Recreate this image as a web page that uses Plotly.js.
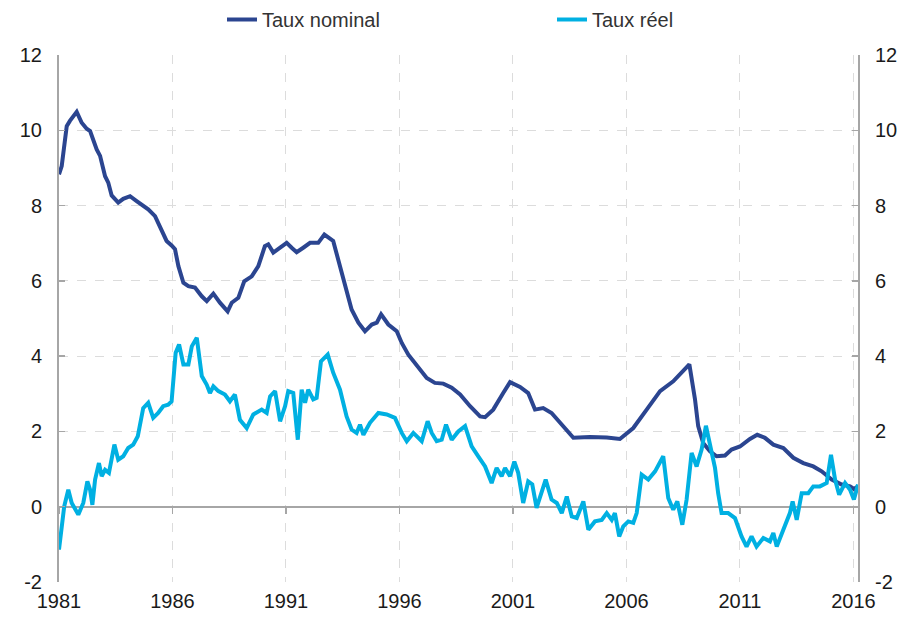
<!DOCTYPE html>
<html>
<head>
<meta charset="utf-8">
<script src="https://cdn.plot.ly/plotly-3.0.1.min.js"></script>
<style>
  html, body { margin: 0; padding: 0; background: #ffffff; }
  #chart { width: 909px; height: 620px; }
</style>
</head>
<body>
<div id="chart"></div>
<script>
// ---- Data ----
const seriesNames = ["Taux nominal", "Taux réel"];

const nominalYears = [
  1981.00, 1981.12, 1981.34, 1981.48, 1981.78, 1982.00, 1982.22, 1982.37, 1982.66, 1982.81,
  1983.03, 1983.17, 1983.32, 1983.61, 1983.83, 1984.13, 1984.42, 1984.71, 1984.93, 1985.23,
  1985.52, 1985.74, 1985.96, 1986.11, 1986.26, 1986.48, 1986.70, 1986.99, 1987.29, 1987.51,
  1987.80, 1988.09, 1988.43, 1988.61, 1988.90, 1989.16, 1989.49, 1989.78, 1990.07, 1990.22,
  1990.44, 1990.74, 1991.03, 1991.25, 1991.47, 1991.76, 1992.06, 1992.42, 1992.69, 1993.08,
  1993.30, 1993.60, 1993.89, 1994.19, 1994.48, 1994.78, 1995.00, 1995.19, 1995.51, 1995.88,
  1996.10, 1996.39, 1996.83, 1997.20, 1997.56, 1997.93, 1998.30, 1998.67, 1999.11, 1999.55,
  1999.77, 2000.13, 2000.57, 2000.87, 2001.31, 2001.67, 2001.97, 2002.33, 2002.70, 2003.07,
  2003.66, 2004.39, 2005.13, 2005.71, 2006.30, 2006.89, 2007.48, 2008.06, 2008.43, 2008.77,
  2009.02, 2009.16, 2009.38, 2009.68, 2009.97, 2010.34, 2010.63, 2011.00, 2011.44, 2011.76,
  2012.10, 2012.47, 2012.91, 2013.35, 2013.79, 2014.23, 2014.60, 2015.04, 2015.48, 2015.85,
  2016.02, 2016.20
];
const nominalValues = [
  8.83, 9.05, 10.11, 10.25, 10.49, 10.20, 10.04, 9.98, 9.49, 9.32,
  8.78, 8.61, 8.27, 8.08, 8.18, 8.25, 8.12, 7.99, 7.90, 7.72,
  7.37, 7.06, 6.94, 6.84, 6.39, 5.95, 5.86, 5.82, 5.59, 5.46,
  5.66, 5.42, 5.19, 5.42, 5.55, 5.99, 6.12, 6.39, 6.92, 6.97,
  6.75, 6.88, 7.01, 6.88, 6.76, 6.88, 7.01, 7.01, 7.23, 7.06,
  6.57, 5.95, 5.24, 4.89, 4.66, 4.84, 4.89, 5.11, 4.84, 4.66,
  4.35, 4.04, 3.69, 3.42, 3.29, 3.27, 3.16, 2.98, 2.67, 2.40,
  2.38, 2.58, 3.02, 3.31, 3.18, 3.02, 2.58, 2.62, 2.49, 2.23,
  1.83, 1.85, 1.84, 1.80, 2.09, 2.58, 3.07, 3.33, 3.56, 3.78,
  2.85, 2.14, 1.69, 1.47, 1.34, 1.36, 1.52, 1.60, 1.80, 1.91,
  1.83, 1.65, 1.56, 1.30, 1.16, 1.07, 0.94, 0.72, 0.59, 0.54,
  0.47, 0.54
];

const realYears = [
  1981.00, 1981.12, 1981.23, 1981.41, 1981.56, 1981.85, 1982.07, 1982.25, 1982.37, 1982.47,
  1982.59, 1982.76, 1982.88, 1983.03, 1983.20, 1983.44, 1983.61, 1983.83, 1984.05, 1984.27,
  1984.47, 1984.71, 1984.93, 1985.15, 1985.37, 1985.59, 1985.81, 1985.96, 1986.14, 1986.29,
  1986.48, 1986.70, 1986.85, 1987.07, 1987.29, 1987.51, 1987.65, 1987.80, 1988.02, 1988.31,
  1988.53, 1988.75, 1988.97, 1989.27, 1989.56, 1989.93, 1990.15, 1990.30, 1990.52, 1990.74,
  1990.96, 1991.10, 1991.32, 1991.52, 1991.69, 1991.84, 1991.98, 1992.20, 1992.35, 1992.54,
  1992.84, 1993.08, 1993.38, 1993.67, 1993.89, 1994.11, 1994.26, 1994.41, 1994.70, 1995.07,
  1995.44, 1995.80, 1996.10, 1996.32, 1996.61, 1996.98, 1997.24, 1997.42, 1997.64, 1997.86,
  1998.05, 1998.30, 1998.59, 1998.89, 1999.18, 1999.47, 1999.77, 2000.06, 2000.28, 2000.50,
  2000.65, 2000.87, 2001.06, 2001.23, 2001.45, 2001.67, 2001.85, 2002.04, 2002.23, 2002.44,
  2002.70, 2002.93, 2003.15, 2003.37, 2003.59, 2003.81, 2004.10, 2004.32, 2004.61, 2004.91,
  2005.13, 2005.35, 2005.49, 2005.68, 2005.86, 2006.08, 2006.30, 2006.45, 2006.67, 2006.96,
  2007.26, 2007.62, 2007.84, 2008.06, 2008.24, 2008.46, 2008.65, 2008.87, 2009.09, 2009.31,
  2009.50, 2009.68, 2009.90, 2010.04, 2010.19, 2010.48, 2010.78, 2011.07, 2011.29, 2011.51,
  2011.73, 2012.03, 2012.32, 2012.47, 2012.62, 2012.91, 2013.20, 2013.32, 2013.50, 2013.72,
  2014.01, 2014.23, 2014.52, 2014.82, 2015.01, 2015.19, 2015.37, 2015.63, 2015.85, 2016.02,
  2016.20
];
const realValues = [
  -1.14, -0.43, 0.01, 0.45, 0.10, -0.21, 0.10, 0.67, 0.45, 0.05,
  0.72, 1.16, 0.81, 0.98, 0.90, 1.65, 1.25, 1.34, 1.56, 1.65,
  1.87, 2.62, 2.76, 2.36, 2.49, 2.67, 2.71, 2.80, 4.09, 4.31,
  3.78, 3.78, 4.26, 4.49, 3.47, 3.24, 3.02, 3.20, 3.07, 2.98,
  2.80, 2.98, 2.31, 2.09, 2.45, 2.58, 2.49, 2.93, 3.07, 2.27,
  2.67, 3.07, 3.02, 1.78, 3.11, 2.76, 3.11, 2.85, 2.89, 3.86,
  4.04, 3.56, 3.11, 2.40, 2.05, 1.96, 2.18, 1.91, 2.23, 2.49,
  2.45, 2.36, 1.96, 1.74, 1.96, 1.74, 2.27, 1.96, 1.74, 1.78,
  2.18, 1.78, 2.00, 2.14, 1.60, 1.34, 1.07, 0.63, 1.03, 0.81,
  1.03, 0.81, 1.20, 0.90, 0.10, 0.67, 0.59, -0.03, 0.32, 0.72,
  0.19, 0.10, -0.17, 0.27, -0.26, -0.30, 0.14, -0.61, -0.39, -0.35,
  -0.17, -0.35, -0.17, -0.79, -0.52, -0.39, -0.43, -0.17, 0.85, 0.72,
  0.94, 1.34, 0.23, -0.08, 0.14, -0.48, 0.19, 1.43, 1.07, 1.52,
  2.15, 1.60, 1.03, 0.36, -0.17, -0.17, -0.30, -0.79, -1.06, -0.79,
  -1.06, -0.83, -0.92, -0.70, -1.06, -0.61, -0.17, 0.14, -0.35, 0.36,
  0.36, 0.54, 0.54, 0.63, 1.38, 0.72, 0.32, 0.63, 0.45, 0.19,
  0.59
];

const xTickVals = [1981, 1986, 1991, 1996, 2001, 2006, 2011, 2016];
const xTickText = ["1981", "1986", "1991", "1996", "2001", "2006", "2011", "2016"];
const yTickVals = [-2, 0, 2, 4, 6, 8, 10, 12];
const yTickText = ["-2", "0", "2", "4", "6", "8", "10", "12"];

// ---- Styles ----
const FONT = "Liberation Sans, Arial, sans-serif";
const AXIS_GREY = "#a6a6a6";
const GRID_GREY = "#dcdcdc";
const xRange = [1981, 2016.2];
const yRange = [-2, 12];

const traces = [
  {
    x: nominalYears, y: nominalValues, name: seriesNames[0],
    type: "scatter", mode: "lines",
    line: { color: "#2b4590", width: 4 },
    xaxis: "x", yaxis: "y"
  },
  {
    x: realYears, y: realValues, name: seriesNames[1],
    type: "scatter", mode: "lines",
    line: { color: "#00b0e2", width: 4 },
    xaxis: "x", yaxis: "y"
  },
  // empty helper trace so the secondary axes (right labels, ticks on zero line) are drawn
  {
    x: [null], y: [null], type: "scatter", mode: "lines",
    showlegend: false, hoverinfo: "skip",
    xaxis: "x2", yaxis: "y2"
  }
];

const layout = {
  width: 909, height: 620,
  margin: { l: 59, r: 51, t: 55, b: 38 },
  paper_bgcolor: "#ffffff", plot_bgcolor: "#ffffff",
  font: { family: FONT, size: 20, color: "#1a1a1a" },
  showlegend: true,
  legend: {
    orientation: "h",
    x: 0.204, xanchor: "left",
    y: 1.0, yref: "container", yanchor: "top",
    entrywidth: 285,
    font: { family: FONT, size: 20, color: "#333333" },
    bgcolor: "rgba(0,0,0,0)"
  },
  xaxis: {
    range: xRange, type: "linear",
    tickmode: "array", tickvals: xTickVals, ticktext: xTickText,
    showgrid: true, gridcolor: GRID_GREY, griddash: "dash", gridwidth: 1,
    showline: false, zeroline: false, ticks: "",
    tickfont: { family: FONT, size: 20, color: "#1a1a1a" },
    ticklabelstandoff: 5,
    fixedrange: true
  },
  xaxis2: {
    range: xRange, type: "linear", overlaying: "x",
    anchor: "free", position: 2 / 14,
    tickmode: "array", tickvals: xTickVals,
    showticklabels: false, showgrid: false, showline: false, zeroline: false,
    ticks: "outside", ticklen: 6, tickwidth: 1.5, tickcolor: AXIS_GREY,
    fixedrange: true
  },
  yaxis: {
    range: yRange,
    tickmode: "array", tickvals: yTickVals, ticktext: yTickText,
    showgrid: true, gridcolor: GRID_GREY, griddash: "dash", gridwidth: 1,
    zeroline: true, zerolinecolor: AXIS_GREY, zerolinewidth: 2,
    showline: true, linecolor: AXIS_GREY, linewidth: 2,
    ticks: "inside", ticklen: 6, tickwidth: 1.5, tickcolor: AXIS_GREY,
    tickfont: { family: FONT, size: 20, color: "#1a1a1a" },
    ticklabelstandoff: 11,
    fixedrange: true
  },
  yaxis2: {
    range: yRange, overlaying: "y", side: "right", anchor: "x",
    tickmode: "array", tickvals: yTickVals, ticktext: yTickText,
    showgrid: false, zeroline: false,
    showline: true, linecolor: AXIS_GREY, linewidth: 2,
    ticks: "inside", ticklen: 6, tickwidth: 1.5, tickcolor: AXIS_GREY,
    tickfont: { family: FONT, size: 20, color: "#1a1a1a" },
    ticklabelstandoff: 11,
    fixedrange: true
  }
};

Plotly.newPlot("chart", traces, layout, { displayModeBar: false, staticPlot: true });
</script>
</body>
</html>
